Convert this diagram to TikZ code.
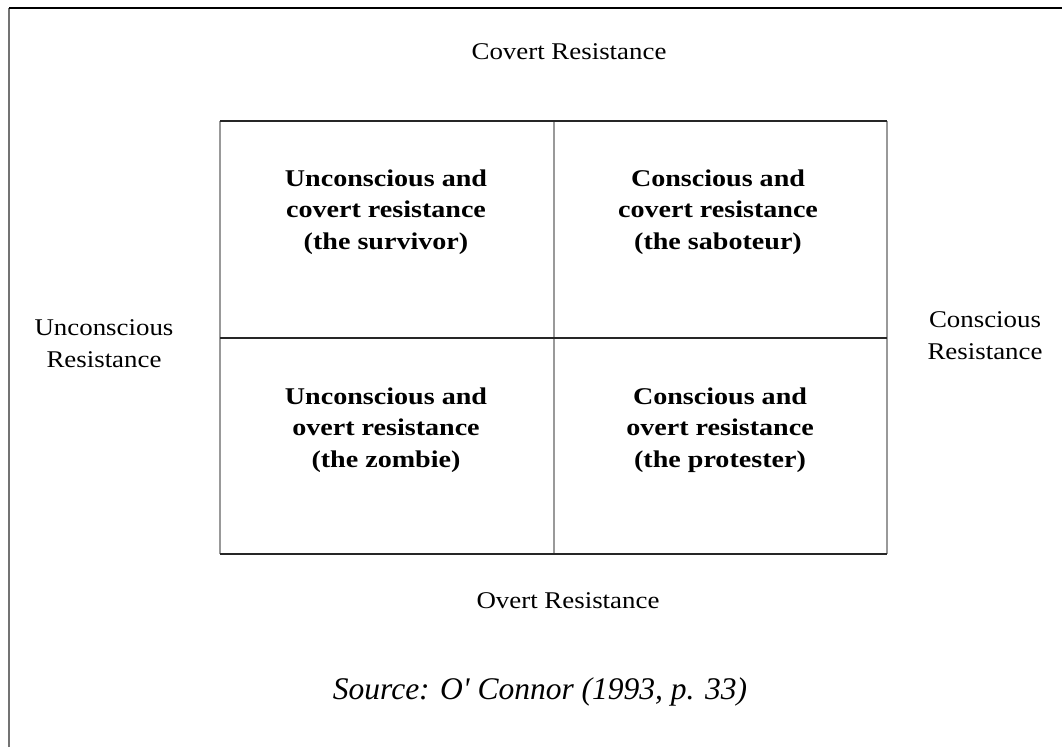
\documentclass[tikz,border=0pt]{standalone}
\usepackage{fontspec}
\setmainfont{Liberation Serif}
\newfontfamily\regfont[FakeStretch=1.12]{Liberation Serif}
\newfontfamily\cellfont[FakeStretch=1.17]{Liberation Serif}
\begin{document}
\begin{tikzpicture}[x=1pt,y=-1pt,
  lbl/.style={font=\regfont\fontsize{24}{32}\selectfont, align=center, inner sep=0pt},
  cell/.style={font=\cellfont\fontsize{24}{31.5}\selectfont\bfseries, align=center, inner sep=0pt},
  hline/.style={line width=1.6pt, draw=black!85},
  vline/.style={line width=2.4pt, draw=black!40},
  frameline/.style={line width=2pt, draw=black!55}]
\useasboundingbox (0,0) rectangle (1062,747);
\coordinate (fbl) at (9,747);
\coordinate (ftl) at (9,8);
\coordinate (ftr) at (1062,8);
\draw[frameline] (fbl) -- (ftl);
\draw[line width=2pt, black] (ftl) -- (ftr);
\coordinate (tl) at (220,121);
\coordinate (tr) at (887,121);
\coordinate (bl) at (220,554);
\coordinate (br) at (887,554);
\coordinate (tm) at (554,121);
\coordinate (bm) at (554,554);
\coordinate (ml) at (220,338);
\coordinate (mr) at (887,338);
\draw[vline] (tl) -- (bl);
\draw[vline] (tr) -- (br);
\draw[vline] (tm) -- (bm);
\draw[hline] (tl) -- (tr);
\draw[hline] (bl) -- (br);
\draw[hline] (ml) -- (mr);
\node[lbl] (top) at (569,52) {Covert Resistance};
\node[lbl] (bot) at (568,601) {Overt Resistance};
\node[lbl] (left) at (104,344) {Unconscious\\Resistance};
\node[lbl] (right) at (985,336) {Conscious\\Resistance};
\node[cell] (ul) at (386,212) {Unconscious and\\covert resistance\\(the survivor)};
\node[cell] (ur) at (718,212) {Conscious and\\covert resistance\\(the saboteur)};
\node[cell] (ll) at (386,430) {Unconscious and\\overt resistance\\(the zombie)};
\node[cell] (lr) at (720,430) {Conscious and\\overt resistance\\(the protester)};
\node[font=\fontsize{31.5}{36}\selectfont\itshape, inner sep=0pt] (src) at (540,692) {Source: O\textquotesingle{} Connor (1993, p. 33)};
\end{tikzpicture}
\end{document}
